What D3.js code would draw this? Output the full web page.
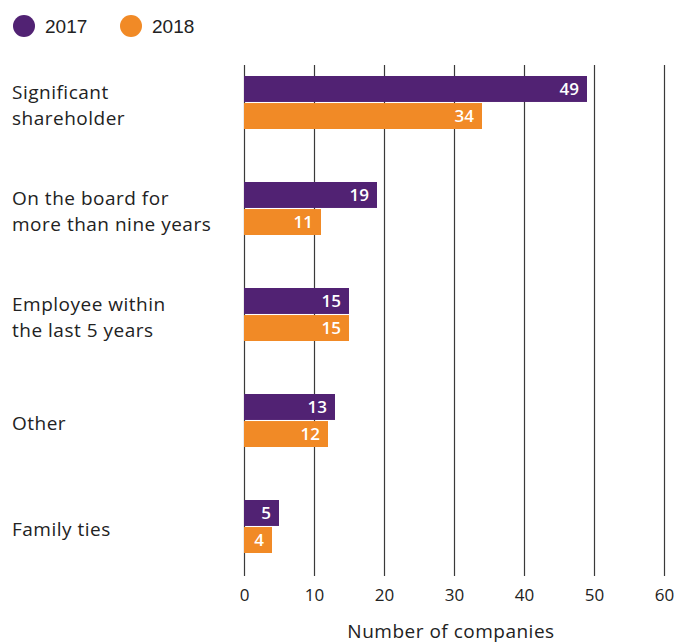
<!DOCTYPE html>
<html>
<head>
<meta charset="utf-8">
<script src="https://cdn.jsdelivr.net/npm/d3@7/dist/d3.min.js"></script>
<style>
  body { margin: 0; background: #fff; }
  svg { display: block; }
</style>
</head>
<body>
<svg id="chart" width="690" height="643"></svg>
<script>
// Independence criteria: number of companies per reason, by year
const categories = [
  ["Significant", "shareholder"],
  ["On the board for", "more than nine years"],
  ["Employee within", "the last 5 years"],
  ["Other"],
  ["Family ties"]
];
const years = ["2017", "2018"];
const values2017 = [49, 19, 15, 13, 5];
const values2018 = [34, 11, 15, 12, 4];
const xTicks = [0, 10, 20, 30, 40, 50, 60];
const axisTitle = "Number of companies";

const colors = { "2017": "#512273", "2018": "#F18A26" };
const series = { "2017": values2017, "2018": values2018 };
const font = "'Open Sans', 'Noto Sans', sans-serif";

const svg = d3.select("#chart");

const x = d3.scaleLinear().domain([0, 60]).range([244, 664]);
const y = d3.scaleBand()
  .domain(d3.range(categories.length))
  .range([49.5, 579.5])
  .paddingInner(0.5)
  .paddingOuter(0.25);
const ySub = d3.scaleBand()
  .domain(years)
  .range([0, y.bandwidth()])
  .paddingInner(0.04);

// vertical gridlines
svg.append("g")
  .selectAll("line")
  .data(xTicks)
  .join("line")
  .attr("x1", d => Math.round(x(d)) + 0.5)
  .attr("x2", d => Math.round(x(d)) + 0.5)
  .attr("y1", 65)
  .attr("y2", 576)
  .attr("stroke", "#3a3a3a")
  .attr("stroke-width", 1.2);

// x axis tick labels
const xAxis = d3.axisBottom(x).tickValues(xTicks).tickSize(0).tickPadding(0);
const gx = svg.append("g").attr("transform", "translate(0,587)").call(xAxis);
gx.select(".domain").remove();
gx.selectAll("text")
  .attr("font-family", font)
  .attr("font-size", 17)
  .attr("fill", "#222")
  .attr("dy", "0.85em");

svg.append("text")
  .attr("x", 451)
  .attr("y", 638)
  .attr("text-anchor", "middle")
  .attr("font-family", font)
  .attr("font-size", 19)
  .attr("letter-spacing", 0.5)
  .attr("fill", "#222")
  .text(axisTitle);

// bars
const groups = svg.append("g")
  .selectAll("g")
  .data(categories.map((c, i) => i))
  .join("g")
  .attr("transform", i => `translate(0,${y(i)})`);

groups.selectAll("rect")
  .data(i => years.map(yr => ({ yr, v: series[yr][i] })))
  .join("rect")
  .attr("x", x(0))
  .attr("y", d => ySub(d.yr))
  .attr("width", d => x(d.v) - x(0))
  .attr("height", ySub.bandwidth())
  .attr("fill", d => colors[d.yr]);

groups.selectAll("text.val")
  .data(i => years.map(yr => ({ yr, v: series[yr][i] })))
  .join("text")
  .attr("class", "val")
  .attr("x", d => x(d.v) - 8)
  .attr("y", d => ySub(d.yr) + ySub.bandwidth() / 2)
  .attr("dy", "0.36em")
  .attr("text-anchor", "end")
  .attr("font-family", font)
  .attr("font-weight", 600)
  .attr("font-size", 17)
  .attr("fill", "#fff")
  .text(d => d.v);

// category labels
const lineH = 26;
svg.append("g")
  .selectAll("text")
  .data(categories)
  .join("text")
  .attr("font-family", font)
  .attr("font-size", 19)
  .attr("letter-spacing", 0.5)
  .attr("fill", "#222")
  .each(function (lines, i) {
    const cy = y(i) + y.bandwidth() / 2 + 3;
    const t = d3.select(this);
    lines.forEach((ln, k) => {
      t.append("tspan")
        .attr("x", 12)
        .attr("y", cy + (k - (lines.length - 1) / 2) * lineH)
        .attr("dy", "0.35em")
        .text(ln);
    });
  });

// legend
const legend = svg.append("g")
  .selectAll("g")
  .data(years)
  .join("g")
  .attr("transform", (d, i) => `translate(${24 + i * 107},26)`);
legend.append("circle").attr("r", 11).attr("fill", d => colors[d]);
legend.append("text")
  .attr("x", 21)
  .attr("dy", "0.36em")
  .attr("font-family", "'Liberation Sans', Arial, sans-serif")
  .attr("font-size", 19)
  .attr("fill", "#222")
  .text(d => d);
</script>
</body>
</html>
